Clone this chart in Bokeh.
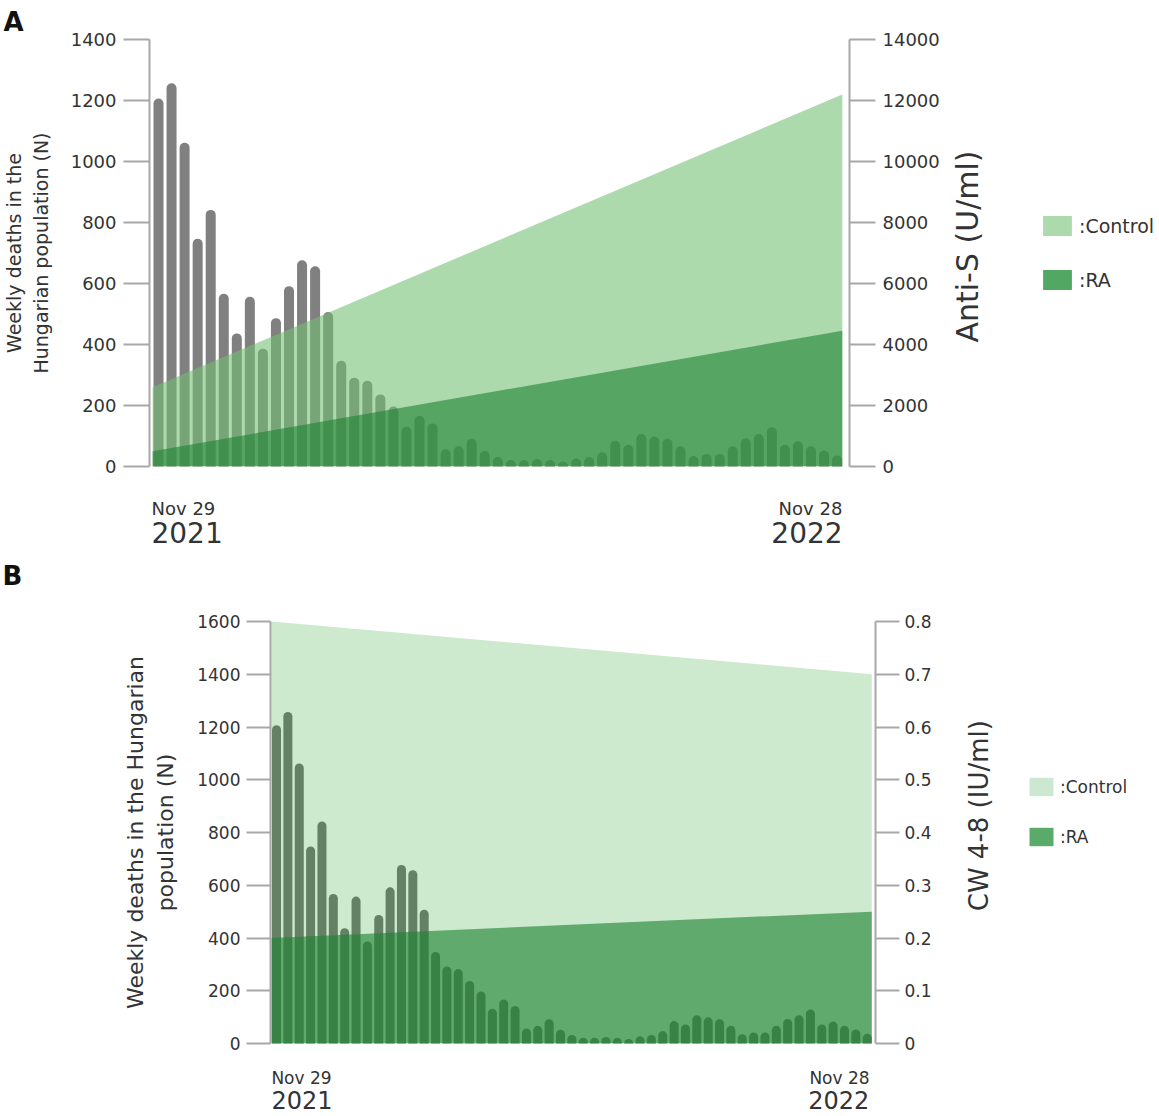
import math
from bokeh.plotting import figure
from bokeh.models import Range1d, LinearAxis, FixedTicker, Legend, LegendItem, Title
from bokeh.layouts import column, row
from bokeh.embed import file_html
from bokeh.resources import INLINE

# ---------------- data ----------------
weeks = list(range(53))
deaths = [1190, 1240, 1045, 730, 825, 550, 420, 540, 370, 470,
          575, 660, 640, 490, 330, 275, 265, 220, 180, 115,
          150, 125, 40, 50, 75, 35, 15, 5, 5, 8,
          5, 0, 10, 15, 30, 68, 55, 90, 82, 75,
          50, 18, 25, 25, 50, 76, 90, 112, 55, 66,
          50, 36, 20]
baseline = [0] * len(weeks)
area_weeks = [-0.45, 52.4]
area_base = [0, 0]
antis_control = [2600, 12200]
antis_ra = [500, 4450]
cw_control = [0.8, 0.7]
cw_ra = [0.2, 0.25]
left_ticks_a = [0, 200, 400, 600, 800, 1000, 1200, 1400]
right_ticks_a = [0, 2000, 4000, 6000, 8000, 10000, 12000, 14000]
left_ticks_b = [0, 200, 400, 600, 800, 1000, 1200, 1400, 1600]
right_ticks_b = [0, 0.1, 0.2, 0.3, 0.4, 0.5, 0.6, 0.7, 0.8]
date_days = ["Nov 29", "Nov 28"]
date_years = ["2021", "2022"]
day_ticks_a = [1.91, 49.96]
year_ticks_a = [2.19, 49.69]
day_ticks_b = [2.2, 49.56]
year_ticks_b = [2.25, 49.5]
legend_labels = [":Control", ":RA"]

FONT = "DejaVu Sans"
TEXT = "#333333"
AXIS = "#a8a8a8"
NBSP = "\u00a0"


def no_title(f):
    try:
        f.title = None
    except Exception:
        f.title.visible = False


def style_axis(ax, ticks, tick_out, font_size, tick_standoff):
    ax.ticker = FixedTicker(ticks=ticks)
    ax.axis_line_color = AXIS
    ax.axis_line_width = 2
    ax.major_tick_line_color = AXIS
    ax.major_tick_line_width = 2
    ax.major_tick_out = tick_out
    ax.major_tick_in = 0
    ax.minor_tick_line_color = None
    ax.major_label_text_font = FONT
    ax.major_label_text_font_size = f"{font_size}px"
    ax.major_label_text_color = TEXT
    ax.major_label_standoff = tick_standoff


def set_label(ax, label, size, standoff):
    ax.axis_label = label
    ax.axis_label_text_font = FONT
    ax.axis_label_text_font_size = f"{size}px"
    ax.axis_label_text_font_style = "normal"
    ax.axis_label_text_color = TEXT
    ax.axis_label_standoff = standoff


def right_axis(p, ticks, tick_out, font_size, tick_standoff, label, size, standoff, pad):
    ax = LinearAxis(y_range_name="r")
    style_axis(ax, ticks, tick_out, font_size, tick_standoff)
    # text reading bottom-to-top like the reference; anchored at the axis start
    set_label(ax, NBSP * pad + label, size, standoff)
    try:
        ax.axis_label_orientation = math.pi / 2
        ax.axis_label_align = "start"
    except Exception:
        pass
    p.add_layout(ax, "right")
    return ax


def date_axes(p, specs):
    for ticks, labels, size, standoff in specs:
        ax = LinearAxis()
        ax.ticker = FixedTicker(ticks=ticks)
        ax.major_label_overrides = {t: l for t, l in zip(ticks, labels)}
        ax.axis_line_color = None
        ax.major_tick_line_color = None
        ax.minor_tick_line_color = None
        ax.major_tick_out = 0
        ax.major_tick_in = 0
        ax.major_label_standoff = standoff
        ax.major_label_text_font = FONT
        ax.major_label_text_font_size = f"{size}px"
        ax.major_label_text_color = TEXT
        p.add_layout(ax, "below")


def legend_fig(height, colors, loc, gw, gh, spacing, size):
    # ranges far away from the data so the area renderers only show as legend swatches
    f = figure(width=139, height=height, x_range=Range1d(1000, 1001), y_range=Range1d(0, 1),
               x_axis_location=None, y_axis_location=None, toolbar_location=None,
               output_backend="svg", min_border=0)
    no_title(f)
    f.outline_line_color = None
    f.frame_align = False
    for g in f.grid:
        g.grid_line_color = None
    items = []
    for lab, col in zip(legend_labels, colors):
        r = f.varea(x=area_weeks, y1=area_base, y2=area_base, fill_color=col)
        items.append(LegendItem(label=lab, renderers=[r]))
    f.add_layout(Legend(items=items, location=loc, orientation="vertical",
                        glyph_width=gw, glyph_height=gh, spacing=spacing, label_standoff=4,
                        padding=0, margin=0, border_line_color=None,
                        background_fill_alpha=0, label_text_font=FONT,
                        label_text_font_size=f"{size}px", label_text_color=TEXT))
    return f


def base_fig(height, xr, yr, left, right, top, bottom, letter, offset, standoff):
    p = figure(width=1020, height=height, x_range=Range1d(*xr), y_range=Range1d(*yr),
               x_axis_location=None, y_axis_location="left", toolbar_location=None,
               output_backend="svg", min_border_left=left, min_border_right=right,
               min_border_top=top, min_border_bottom=bottom)
    p.title = Title(text=letter, align="left", offset=offset, standoff=standoff,
                    text_font=FONT, text_font_size="26px", text_font_style="bold",
                    text_color="#111111")
    p.frame_align = False
    p.outline_line_color = None
    for g in p.grid:
        g.grid_line_color = None
    return p


# ---------------- panel A ----------------
pa = base_fig(554, (-0.69, 52.95), (0, 1400), 148, 171, 39, 88, "A", -146, 5)
pa.extra_y_ranges = {"r": Range1d(0, 14000)}

pa.segment(x0=weeks, y0=baseline, x1=weeks, y1=deaths, line_color="#808080",
           line_width=10, line_cap="round")
pa.varea(x=area_weeks, y1=area_base, y2=antis_control, fill_color=(112, 192, 114),
         fill_alpha=0.58, y_range_name="r")
pa.varea(x=area_weeks, y1=area_base, y2=antis_ra, fill_color=(30, 130, 50),
         fill_alpha=0.6, y_range_name="r")

style_axis(pa.yaxis[0], left_ticks_a, 26, 18, 7)
set_label(pa.yaxis[0], "Weekly deaths in the\nHungarian population (N)", 19, 16)
right_axis(pa, right_ticks_a, 26, 18, 7, "Anti-S (U/ml)", 30, 25, 13)
date_axes(pa, [(day_ticks_a, date_days, 18, 31), (year_ticks_a, date_years, 28, 0)])

la = legend_fig(554, ["#acdaad", "#52a862"], (19, 262), 36, 25, 29, 19)

# ---------------- panel B ----------------
# the letter gets an empty second line so that it sits higher above the frame
pb = base_fig(562, (-0.53, 52.73), (0, 1600), 270, 145, 67, 73, "B\n" + NBSP, -268, 2)
pb.extra_y_ranges = {"r": Range1d(0, 0.8)}

pb.segment(x0=weeks, y0=baseline, x1=weeks, y1=deaths, line_color="#6e6e6e",
           line_width=9, line_cap="round")
pb.varea(x=area_weeks, y1=area_base, y2=cw_control, fill_color=(76, 175, 80),
         fill_alpha=0.28, y_range_name="r")
pb.varea(x=area_weeks, y1=area_base, y2=cw_ra, fill_color=(30, 130, 50),
         fill_alpha=0.62, y_range_name="r")

style_axis(pb.yaxis[0], left_ticks_b, 24, 17, 6)
set_label(pb.yaxis[0], "Weekly deaths in the Hungarian\npopulation (N)", 22, 16)
rb = right_axis(pb, right_ticks_b, 24, 17, 5, "CW 4-8 (IU/ml)", 26, 44, 16)
rb.major_label_overrides = {0: "0"}
date_axes(pb, [(day_ticks_b, date_days, 17, 24), (year_ticks_b, date_years, 24, 0)])

lb = legend_fig(562, ["#cde8d0", "#5aab6a"], (6, 268), 30, 23, 27, 17)

layout = column(row(pa, la), row(pb, lb))
open("out.html", "w").write(file_html(layout, INLINE))
